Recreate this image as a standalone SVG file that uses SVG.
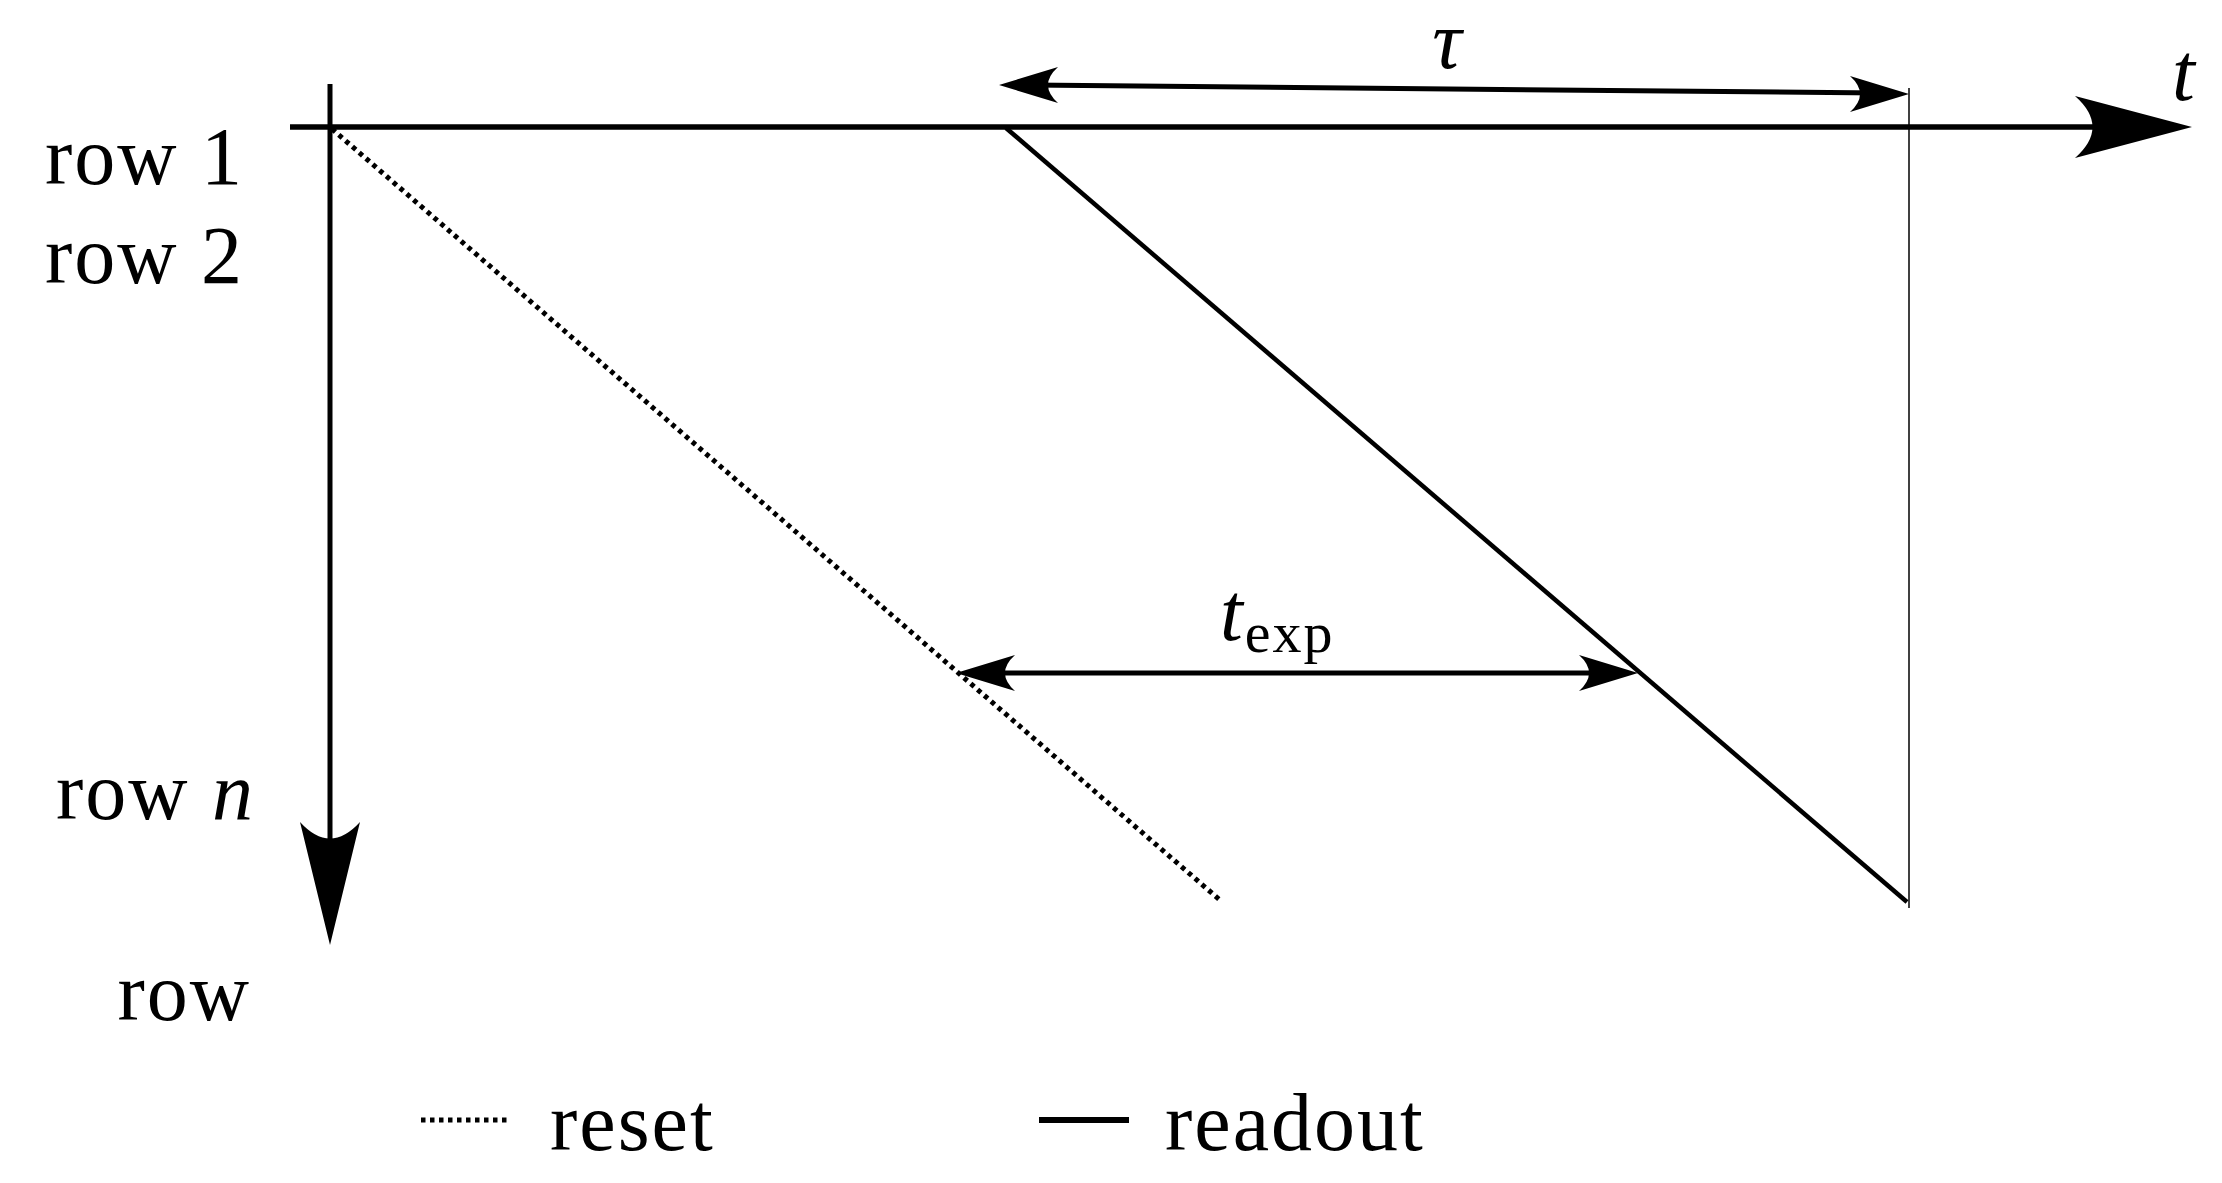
<svg xmlns="http://www.w3.org/2000/svg" width="2222" height="1183" viewBox="0 0 2222 1183">
<style>
text{font-family:"Liberation Serif",serif;font-size:82px;fill:#000;letter-spacing:2px}
.it{font-style:italic}
.ln{stroke:#000;fill:none}
.hd{fill:#000;stroke:none}
</style>
<rect width="2222" height="1183" fill="#fff"/>
<g id="connectors">
<line class="ln" x1="290" y1="127" x2="2150" y2="127" stroke-width="5.5"/>
<path class="hd" d="M2192,127 L2075,96 Q2110,127 2075,158 Z"/>
<line class="ln" x1="330" y1="84" x2="330" y2="900" stroke-width="5"/>
<path class="hd" d="M330,945 L300,822 Q330,855 360,822 Z"/>
<line class="ln" x1="332" y1="129" x2="1221" y2="901" stroke-width="5" stroke-dasharray="4.5,4.5"/>
<line class="ln" x1="1006" y1="128" x2="1907" y2="902" stroke-width="4.5"/>
<line class="ln" x1="1909" y1="88" x2="1909" y2="908" stroke-width="1.5"/>
<line class="ln" x1="1030" y1="85" x2="1880" y2="93" stroke-width="5"/>
<path class="hd" d="M999,85 L1058,67 Q1038,85 1058,103 Z"/>
<path class="hd" d="M1909,94 L1850,76 Q1870,94 1850,112 Z"/>
<line class="ln" x1="985" y1="673" x2="1610" y2="673" stroke-width="5"/>
<path class="hd" d="M956,673 L1015,655 Q995,673 1015,691 Z"/>
<path class="hd" d="M1638,673 L1579,655 Q1599,673 1579,691 Z"/>
<line class="ln" x1="421" y1="1120" x2="510" y2="1120" stroke-width="5" stroke-dasharray="4.5,4.5"/>
<line class="ln" x1="1039" y1="1120" x2="1129" y2="1120" stroke-width="6"/>
</g>
<g id="labels">
<text x="244" y="184" text-anchor="end">row 1</text>
<text x="244" y="283" text-anchor="end">row 2</text>
<text x="255" y="819" text-anchor="end">row <tspan class="it">n</tspan></text>
<text x="251" y="1020" text-anchor="end">row</text>
<text x="1448" y="68" text-anchor="middle" class="it" font-size="72">τ</text>
<text x="2172" y="100" class="it">t</text>
<text x="1220" y="640" class="it">t<tspan font-style="normal" font-size="58" dy="12">exp</tspan></text>
<text x="550" y="1150">reset</text>
<text x="1165" y="1150">readout</text>
</g>
</svg>
